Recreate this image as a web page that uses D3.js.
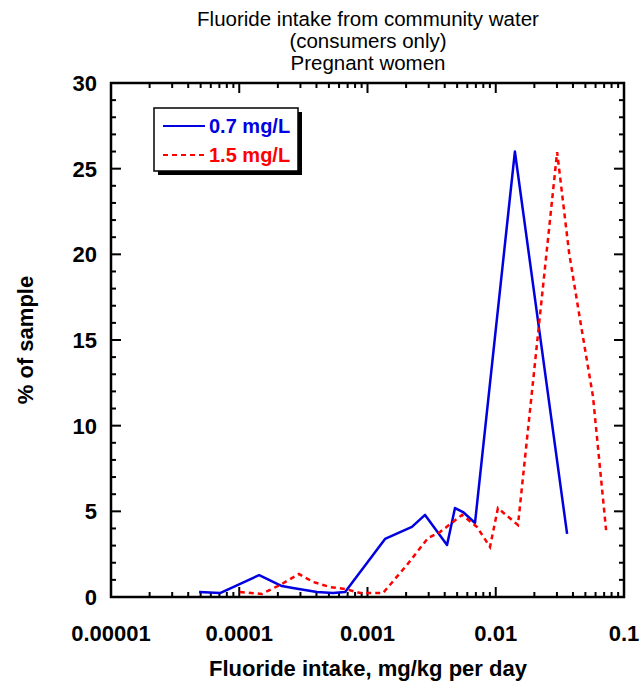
<!DOCTYPE html>
<html><head><meta charset="utf-8">
<script src="https://cdn.jsdelivr.net/npm/d3@7"></script>
<style>body{margin:0;background:#fff}svg{display:block}text{font-family:"Liberation Sans",Arial,sans-serif}</style>
</head><body>
<svg id="c" width="640" height="687"></svg>
<script>
const titleLines = ["Fluoride intake from community water", "(consumers only)", "Pregnant women"];
const xTickValues = [1e-5, 1e-4, 1e-3, 1e-2, 1e-1];
const xTickLabels = ["0.00001", "0.0001", "0.001", "0.01", "0.1"];
const yTickValues = [0, 5, 10, 15, 20, 25, 30];
const seriesNames = ["0.7 mg/L", "1.5 mg/L"];
const blueX = [4.86e-5, 7.08e-5, 1.43e-4, 2.15e-4, 2.62e-4, 4.03e-4, 5.38e-4, 6.69e-4, 1.37e-3, 2.22e-3, 2.81e-3, 4.17e-3, 4.81e-3, 5.56e-3, 6.89e-3, 0.0141, 0.0360];
const blueY = [0.29, 0.23, 1.28, 0.64, 0.53, 0.29, 0.23, 0.29, 3.39, 4.09, 4.79, 3.04, 5.19, 4.96, 4.32, 26.0, 3.68];
const redX = [1.01e-4, 1.50e-4, 2.15e-4, 2.92e-4, 3.76e-4, 5.11e-4, 6.69e-4, 8.76e-4, 1.32e-3, 2.03e-3, 2.96e-3, 3.67e-3, 5.46e-3, 7.14e-3, 9.02e-3, 0.0104, 0.0149, 0.0301, 0.0373, 0.0454, 0.0573, 0.0725];
const redY = [0.29, 0.18, 0.76, 1.34, 0.88, 0.58, 0.47, 0.23, 0.23, 1.87, 3.44, 3.79, 4.79, 4.09, 2.92, 5.19, 4.20, 25.97, 20.1, 16.2, 11.7, 3.9];

const L = 111, R = 624, T = 83, B = 597;
const svg = d3.select("#c");
const x = d3.scaleLog().domain([1e-5, 1e-1]).range([L, R]);
const y = d3.scaleLinear().domain([0, 30]).range([B, T]);

// title
svg.append("g").selectAll("text").data(titleLines).join("text")
  .attr("x", 368).attr("y", (d, i) => 26 + i * 22)
  .attr("text-anchor", "middle").attr("font-size", 20.5).text(d => d);

// minor ticks
const minorX = [];
for (let e = -5; e < -1; e++) for (let m = 2; m <= 9; m++) minorX.push(m * Math.pow(10, e));
const minorY = d3.range(0, 31).filter(v => v % 5 !== 0);

const ax = svg.append("g").attr("stroke", "#000").attr("stroke-width", 2);
ax.selectAll(".xm").data(minorX).join("line")
  .attr("x1", d => x(d)).attr("x2", d => x(d)).attr("y1", B).attr("y2", B - 5);
ax.selectAll(".xm2").data(minorX).join("line")
  .attr("x1", d => x(d)).attr("x2", d => x(d)).attr("y1", T).attr("y2", T + 5);
ax.selectAll(".xM").data(xTickValues).join("line")
  .attr("x1", d => x(d)).attr("x2", d => x(d)).attr("y1", B).attr("y2", B - 10);
ax.selectAll(".xM2").data(xTickValues).join("line")
  .attr("x1", d => x(d)).attr("x2", d => x(d)).attr("y1", T).attr("y2", T + 10);
ax.selectAll(".ym").data(minorY).join("line")
  .attr("y1", d => y(d)).attr("y2", d => y(d)).attr("x1", L).attr("x2", L + 5);
ax.selectAll(".ym2").data(minorY).join("line")
  .attr("y1", d => y(d)).attr("y2", d => y(d)).attr("x1", R).attr("x2", R - 5);
ax.selectAll(".yM").data(yTickValues).join("line")
  .attr("y1", d => y(d)).attr("y2", d => y(d)).attr("x1", L).attr("x2", L + 10);
ax.selectAll(".yM2").data(yTickValues).join("line")
  .attr("y1", d => y(d)).attr("y2", d => y(d)).attr("x1", R).attr("x2", R - 10);

// frame
svg.append("rect").attr("x", L).attr("y", T).attr("width", R - L).attr("height", B - T)
  .attr("fill", "none").attr("stroke", "#000").attr("stroke-width", 2.5);

// tick labels
svg.append("g").selectAll("text").data(xTickValues).join("text")
  .attr("x", d => x(d)).attr("y", 641).attr("text-anchor", "middle")
  .attr("font-size", 22).attr("font-weight", "bold").text((d, i) => xTickLabels[i]);
svg.append("g").selectAll("text").data(yTickValues).join("text")
  .attr("x", 97).attr("y", d => y(d) + 8).attr("text-anchor", "end")
  .attr("font-size", 22).attr("font-weight", "bold").text(d => d);

// axis titles
svg.append("text").attr("x", 368).attr("y", 676).attr("text-anchor", "middle")
  .attr("font-size", 22).attr("font-weight", "bold").text("Fluoride intake, mg/kg per day");
svg.append("text").attr("transform", "translate(33,340) rotate(-90)").attr("text-anchor", "middle")
  .attr("font-size", 22).attr("font-weight", "bold").text("% of sample");

// lines
const line = d3.line().x(d => x(d[0])).y(d => y(d[1]));
svg.append("path").datum(blueX.map((v, i) => [v, blueY[i]]))
  .attr("d", line).attr("fill", "none").attr("stroke", "#0000e0").attr("stroke-width", 2.5)
  .attr("stroke-linejoin", "round");
svg.append("path").datum(redX.map((v, i) => [v, redY[i]]))
  .attr("d", line).attr("fill", "none").attr("stroke", "#ff0000").attr("stroke-width", 2.5)
  .attr("stroke-dasharray", "5,4");

// legend
const lg = svg.append("g");
lg.append("rect").attr("x", 158).attr("y", 112).attr("width", 144).attr("height", 63).attr("fill", "#000");
lg.append("rect").attr("x", 154).attr("y", 108).attr("width", 144).attr("height", 63)
  .attr("fill", "#fff").attr("stroke", "#000").attr("stroke-width", 1.5);
lg.append("line").attr("x1", 163).attr("x2", 205).attr("y1", 126).attr("y2", 126)
  .attr("stroke", "#0000e0").attr("stroke-width", 2);
lg.append("line").attr("x1", 163).attr("x2", 205).attr("y1", 155).attr("y2", 155)
  .attr("stroke", "#ff0000").attr("stroke-width", 2).attr("stroke-dasharray", "5,4");
lg.append("text").attr("x", 209).attr("y", 133).attr("font-size", 20).attr("font-weight", "bold")
  .attr("fill", "#0000e0").text(seriesNames[0]);
lg.append("text").attr("x", 209).attr("y", 162).attr("font-size", 20).attr("font-weight", "bold")
  .attr("fill", "#ff0000").text(seriesNames[1]);
</script>
</body></html>
